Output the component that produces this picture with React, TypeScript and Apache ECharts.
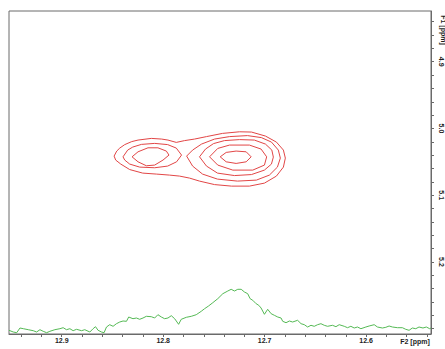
import React, { useEffect, useRef } from "react";
import * as echarts from "echarts";

// F2 axis (ppm), drawn right-to-left
const f2Range = [12.536, 12.952];
const f2TickValues = [12.54, 12.56, 12.58, 12.6, 12.62, 12.64, 12.66, 12.68, 12.7, 12.72, 12.74, 12.76, 12.78, 12.8, 12.82, 12.84, 12.86, 12.88, 12.9, 12.92, 12.94];
const f2LabelValues = [12.6, 12.7, 12.8, 12.9];

// F1 axis (ppm), drawn top-to-bottom
const f1Range = [4.824, 5.308];
const f1TickValues = [4.84, 4.86, 4.88, 4.9, 4.92, 4.94, 4.96, 4.98, 5.0, 5.02, 5.04, 5.06, 5.08, 5.1, 5.12, 5.14, 5.16, 5.18, 5.2, 5.22, 5.24, 5.26, 5.28, 5.3];
const f1LabelValues = [4.9, 5.0, 5.1, 5.2];

// contour lines [F2 ppm, F1 ppm]
const contourOuter = [
  [12.8484, 5.0414], [12.8458, 5.0339], [12.8428, 5.0294], [12.8379, 5.0242], [12.831, 5.0197], [12.8248, 5.0174],
  [12.8117, 5.0149], [12.8015, 5.0159], [12.7953, 5.0174], [12.7871, 5.0209], [12.7789, 5.0182], [12.7691, 5.0159],
  [12.7573, 5.0122], [12.7415, 5.0074], [12.7248, 5.005], [12.713, 5.0054], [12.6992, 5.0114], [12.6884, 5.0204],
  [12.6815, 5.0324], [12.6796, 5.0444], [12.6815, 5.0579], [12.6884, 5.0714], [12.7002, 5.0819], [12.715, 5.0864],
  [12.7327, 5.0864], [12.7494, 5.0841], [12.7642, 5.0789], [12.774, 5.0744], [12.7838, 5.0714], [12.7937, 5.0699],
  [12.8064, 5.0684], [12.8202, 5.0669], [12.833, 5.0616], [12.8418, 5.0534], [12.8468, 5.0474], [12.8484, 5.0414],
];
const contourLeftMid = [
  [12.8396, 5.0425], [12.835, 5.0324], [12.83, 5.0279], [12.8215, 5.0239], [12.8084, 5.0224], [12.7956, 5.0242],
  [12.7871, 5.0294], [12.7819, 5.0399], [12.7868, 5.05], [12.7956, 5.0564], [12.8084, 5.0589], [12.8232, 5.0579],
  [12.833, 5.0534], [12.8379, 5.0474], [12.8396, 5.0425],
];
const contourLeftInner = [
  [12.8307, 5.0425], [12.8248, 5.035], [12.815, 5.029], [12.8052, 5.029], [12.7969, 5.0339], [12.7943, 5.0399],
  [12.8002, 5.0474], [12.8084, 5.0549], [12.8166, 5.0559], [12.8248, 5.05], [12.8307, 5.0425],
];
const contourRight4 = [
  [12.7769, 5.0414], [12.771, 5.0324], [12.7622, 5.0234], [12.7494, 5.0159], [12.7346, 5.0122], [12.7169, 5.0107],
  [12.7032, 5.0137], [12.6933, 5.0204], [12.6865, 5.0324], [12.6845, 5.0444], [12.6874, 5.0579], [12.6953, 5.0699],
  [12.7081, 5.0774], [12.7268, 5.0789], [12.7465, 5.0759], [12.7612, 5.0684], [12.771, 5.0564], [12.7769, 5.0414],
];
const contourRight3 = [
  [12.7642, 5.0425], [12.7583, 5.0309], [12.7504, 5.0227], [12.7396, 5.0182], [12.7248, 5.0167], [12.7101, 5.0174],
  [12.6992, 5.0234], [12.6929, 5.0324], [12.6914, 5.0429], [12.6933, 5.0534], [12.7002, 5.0624], [12.713, 5.0691],
  [12.7297, 5.0706], [12.7465, 5.0669], [12.7573, 5.0564], [12.7642, 5.0425],
];
const contourRight2 = [
  [12.7543, 5.0425], [12.7462, 5.0299], [12.7346, 5.0249], [12.715, 5.0249], [12.7035, 5.0309], [12.698, 5.0425],
  [12.7002, 5.0549], [12.7117, 5.0624], [12.7314, 5.0624], [12.7462, 5.0549], [12.7543, 5.0425],
];
const contourRightInner = [
  [12.7438, 5.0425], [12.7379, 5.0359], [12.7281, 5.0339], [12.7182, 5.035], [12.7133, 5.0425], [12.7182, 5.05],
  [12.7281, 5.0524], [12.7379, 5.05], [12.7438, 5.0425],
];

// 1D projection along F2 [ppm, intensity]
const projection = [
  [12.952, 3.7], [12.9478, 2], [12.9444, 1.3], [12.9412, 6], [12.9379, 5.3], [12.933, 4.3], [12.9281, 3.3], [12.9248, 2],
  [12.9215, 4.3], [12.9183, 2.7], [12.9149, 1.3], [12.9117, 2.7], [12.9068, 4.3], [12.9018, 5.3], [12.8986, 6.3], [12.8953, 4.3],
  [12.892, 5.3], [12.8888, 3.3], [12.8854, 4.7], [12.8805, 3.3], [12.8773, 4.3], [12.8723, 2], [12.8691, 5.3], [12.8667, 7.3],
  [12.8642, 3.7], [12.8608, 2], [12.8583, 1.3], [12.8559, 7], [12.8527, 9.3], [12.8494, 7.7], [12.8461, 10.3], [12.8428, 12],
  [12.8396, 13], [12.8362, 12.7], [12.834, 17], [12.8298, 15.3], [12.8264, 16], [12.8232, 14.7], [12.8199, 16], [12.8166, 17.7],
  [12.8117, 17.3], [12.8084, 16], [12.8052, 19.3], [12.8018, 17], [12.7986, 15.3], [12.7953, 16], [12.792, 18.3], [12.7887, 15.3],
  [12.7848, 9.7], [12.7822, 14.7], [12.7772, 16.7], [12.7723, 17.7], [12.7674, 19.3], [12.7625, 22.7], [12.7592, 25.3], [12.7553, 28],
  [12.7511, 31.3], [12.7462, 35.3], [12.7412, 40.3], [12.7363, 43], [12.733, 44.7], [12.7297, 43], [12.7265, 44.7], [12.7231, 44.7],
  [12.7199, 42], [12.7167, 40.3], [12.7143, 35.3], [12.7117, 33.7], [12.7084, 30.3], [12.7058, 28.7], [12.7035, 26], [12.7002, 19.7],
  [12.697, 24.7], [12.6936, 20.3], [12.6904, 18.7], [12.6871, 17], [12.6838, 16], [12.6822, 12.7], [12.6789, 11.3], [12.6756, 13],
  [12.6724, 12], [12.6675, 13.7], [12.6641, 10.3], [12.6609, 9.3], [12.6576, 7], [12.6543, 8.7], [12.6511, 7.7], [12.6478, 9.3],
  [12.6445, 10.3], [12.6412, 8.7], [12.638, 7.7], [12.6331, 8.7], [12.6297, 7.3], [12.6265, 9.3], [12.6215, 7.7], [12.6183, 6.3],
  [12.615, 7.7], [12.6117, 6], [12.6085, 7], [12.6051, 5.3], [12.6002, 7], [12.597, 8], [12.592, 9.3], [12.5888, 7],
  [12.5839, 6], [12.5805, 6.7], [12.5773, 8], [12.574, 7], [12.5691, 6.3], [12.5642, 6.3], [12.5609, 4.7], [12.5576, 3.7],
  [12.5544, 6], [12.551, 5.3], [12.5478, 7], [12.5439, 6], [12.5406, 7], [12.5373, 5.3], [12.536, 6],
];
const projectionRange = [0, 323];

const contours = [contourOuter, contourLeftMid, contourLeftInner, contourRight4, contourRight3, contourRight2, contourRightInner];

const RED = "#e24646";
const GREEN = "#55b955";
const FRAME = "#6a6a6a";
const TEXT = "#1e1e1e";

export default function App() {
  const ref = useRef<HTMLDivElement>(null);
  useEffect(() => {
    if (!ref.current) return;
    const chart = echarts.init(ref.current, null, { renderer: "svg" });
    const labelStyle = { fontFamily: "Liberation Sans, Arial, sans-serif", fontSize: 7, fontWeight: "bold", color: TEXT };
    chart.setOption({
      animation: false,
      backgroundColor: "#ffffff",
      grid: { left: 9, top: 11, right: 13, bottom: 15, show: true, borderColor: FRAME, borderWidth: 1 },
      xAxis: {
        type: "value",
        min: f2Range[0],
        max: f2Range[1],
        inverse: true,
        position: "bottom",
        splitLine: { show: false },
        axisLine: { show: true, lineStyle: { color: FRAME, width: 1 } },
        axisTick: { show: true, length: 3, inside: false, customValues: f2TickValues, lineStyle: { color: FRAME } },
        axisLabel: { ...labelStyle, margin: 3, customValues: f2LabelValues, formatter: (v: number) => v.toFixed(1) },
      },
      yAxis: [
        {
          type: "value",
          min: f1Range[0],
          max: f1Range[1],
          inverse: true,
          position: "right",
          splitLine: { show: false },
          axisLine: { show: true, lineStyle: { color: FRAME, width: 1 } },
          axisTick: { show: true, length: 3, inside: false, customValues: f1TickValues, lineStyle: { color: FRAME } },
          axisLabel: { ...labelStyle, margin: 7, rotate: -90, customValues: f1LabelValues, formatter: (v: number) => v.toFixed(1) },
        },
        { type: "value", min: projectionRange[0], max: projectionRange[1], show: false, splitLine: { show: false } },
      ],
      graphic: [
        { type: "text", x: 415, y: 341, style: { text: "F2 [ppm]", ...labelStyle, fill: TEXT, align: "center", verticalAlign: "middle", font: "bold 7px 'Liberation Sans', Arial, sans-serif" } },
        { type: "text", x: 443, y: 30, rotation: -Math.PI / 2, style: { text: "F1 [ppm]", fill: TEXT, align: "center", verticalAlign: "middle", font: "bold 7px 'Liberation Sans', Arial, sans-serif" } },
      ],
      series: [
        ...contours.map((c) => ({
          type: "line",
          data: c,
          xAxisIndex: 0,
          yAxisIndex: 0,
          showSymbol: false,
          symbol: "none",
          smooth: false,
          lineStyle: { color: RED, width: 1 },
          silent: true,
        })),
        {
          type: "line",
          data: projection,
          xAxisIndex: 0,
          yAxisIndex: 1,
          showSymbol: false,
          symbol: "none",
          lineStyle: { color: GREEN, width: 1 },
          silent: true,
        },
      ],
    });
    return () => chart.dispose();
  }, []);
  return <div ref={ref} style={{ position: "fixed", left: 0, top: 0, width: 445, height: 349 }} />;
}
